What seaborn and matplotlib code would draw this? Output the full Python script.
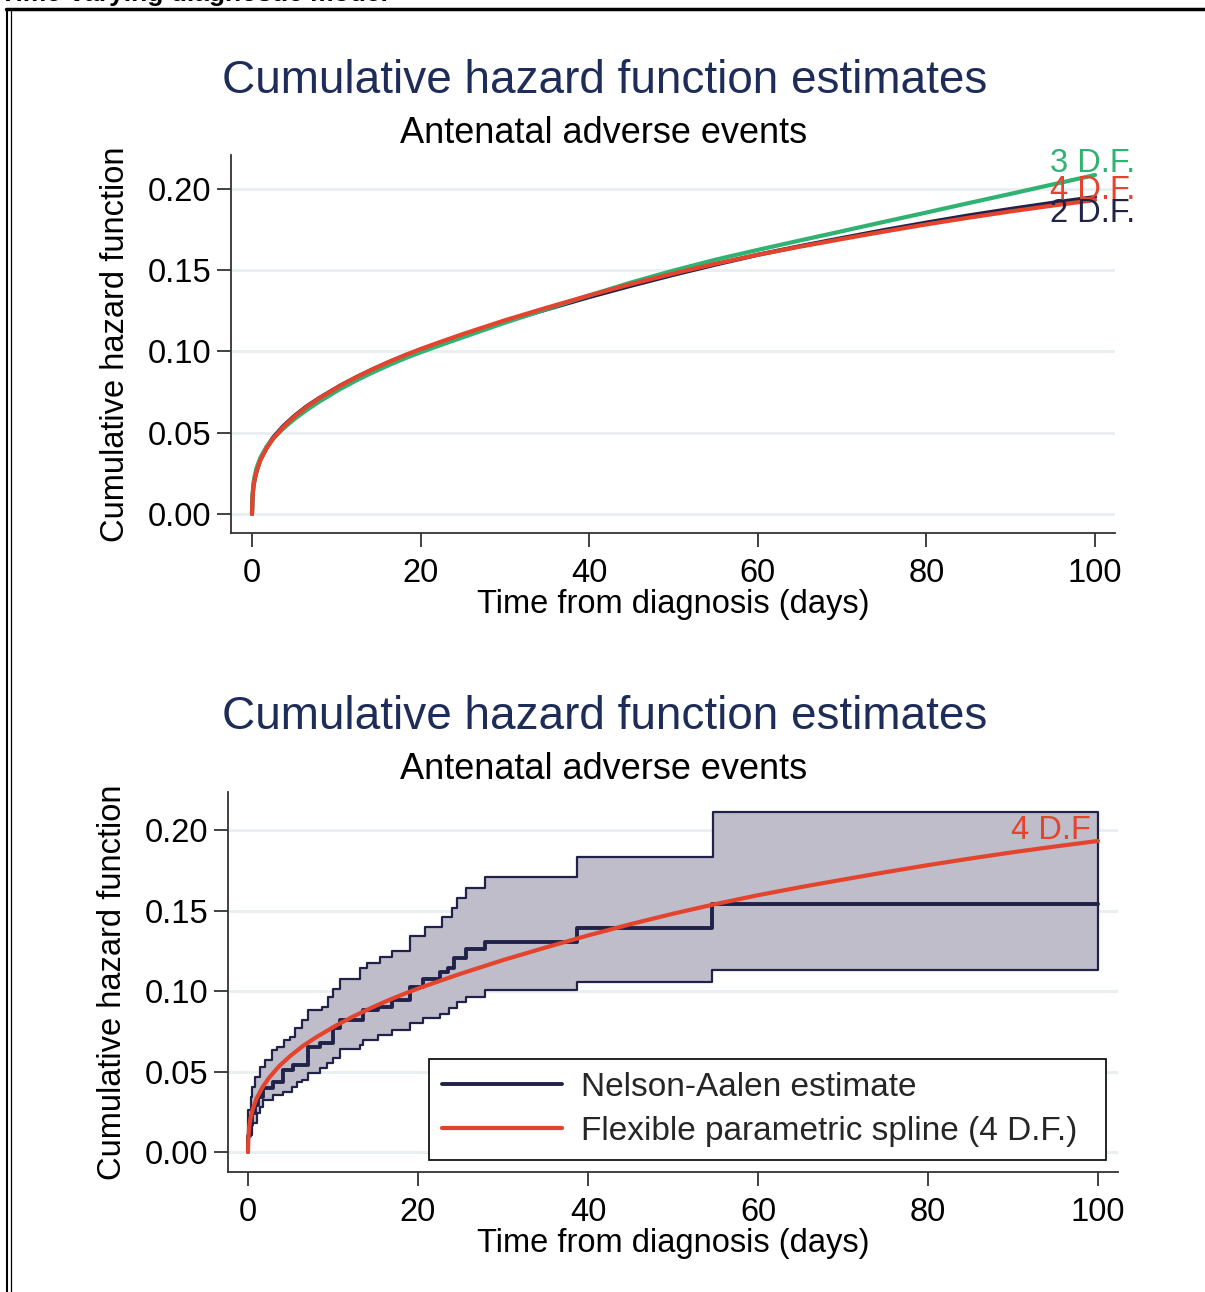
import numpy as np
import pandas as pd
import matplotlib
matplotlib.use("Agg")
import matplotlib.pyplot as plt
from matplotlib.lines import Line2D
from matplotlib.ticker import FormatStrFormatter
import seaborn as sns

# ---------------- data ----------------
# smooth flexible parametric spline estimates (top panel)
days = [0, 0.05, 0.16, 0.3, 0.55, 1.0, 1.74, 2.5, 3.7, 5, 6.5, 8, 10.4, 12.5, 14.4,
        16.5, 18.35, 20, 22.3, 25, 30, 35, 40, 45, 50, 55, 60, 65, 70, 75, 80, 85,
        90, 95, 100]
df4 = [0, 0.009, 0.0165, 0.021, 0.0265, 0.0332, 0.0405, 0.0463, 0.0535, 0.0598,
       0.066, 0.0712, 0.0787, 0.0845, 0.0893, 0.0942, 0.0982, 0.1015, 0.1058, 0.1107,
       0.1192, 0.127, 0.1345, 0.1415, 0.148, 0.154, 0.1595, 0.1645, 0.1692, 0.1738,
       0.1782, 0.1823, 0.1862, 0.1898, 0.1932]
df3 = [0, 0.010, 0.0185, 0.023, 0.0285, 0.0347, 0.0415, 0.0463, 0.0525, 0.0583,
       0.064, 0.0692, 0.0767, 0.0825, 0.0873, 0.0922, 0.0962, 0.0995, 0.1038, 0.1087,
       0.1177, 0.1262, 0.1345, 0.1425, 0.1498, 0.1565, 0.1625, 0.1683, 0.174, 0.1798,
       0.1855, 0.1913, 0.197, 0.2028, 0.2086]
df2 = [0, 0.009, 0.0165, 0.021, 0.0265, 0.0335, 0.041, 0.047, 0.054, 0.0602, 0.0663,
       0.0714, 0.0788, 0.0845, 0.0892, 0.094, 0.0979, 0.1011, 0.1053, 0.110, 0.1183,
       0.126, 0.1335, 0.1405, 0.1472, 0.1535, 0.1595, 0.1648, 0.1698, 0.1747, 0.1793,
       0.1837, 0.1877, 0.1915, 0.195]

# Nelson-Aalen estimate with 95% CI (bottom panel), step values from each time
na_t = [0, 0.05, 0.2, 0.43, 0.8, 1.2, 1.8, 2.98, 4.16, 5.33, 7.1, 8.47, 10.04, 10.82,
        13.57, 15.3, 16.9, 19.06, 20.6, 22.6, 23.5, 24.2, 25.6, 27.9, 38.7, 54.6]
na_v = [0, 0.010, 0.017, 0.024, 0.029, 0.034, 0.0395, 0.0437, 0.051, 0.054, 0.0654,
        0.0675, 0.0768, 0.082, 0.088, 0.090, 0.0944, 0.1027, 0.1075, 0.112, 0.1145,
        0.1205, 0.126, 0.1306, 0.139, 0.154]
up_t = [0, 0.3, 0.45, 0.8, 1.4, 2.0, 2.8, 3.4, 4.2, 4.9, 5.5, 6.3, 7.1, 8.7, 9.45,
        10.0, 10.8, 13.2, 14.0, 15.5, 16.9, 19.1, 20.8, 22.8, 24.0, 24.55, 25.7,
        27.9, 38.7, 54.7]
up_v = [0.026, 0.034, 0.0406, 0.0468, 0.053, 0.057, 0.0634, 0.0654, 0.0696, 0.0716,
        0.0768, 0.082, 0.088, 0.090, 0.0965, 0.101, 0.1075, 0.114, 0.1176, 0.1213,
        0.125, 0.1344, 0.140, 0.146, 0.1513, 0.1576, 0.1638, 0.171, 0.1834, 0.2114]
lo_t = [0, 0.43, 1.02, 1.41, 1.8, 2.98, 4.16, 5.14, 5.73, 6.31, 7.1, 8.47, 9.25,
        10.04, 10.82, 13.18, 13.57, 15.3, 16.9, 19.06, 20.6, 22.6, 23.6, 24.55, 25.7,
        27.9, 38.7, 54.6]
lo_v = [0.0106, 0.0178, 0.024, 0.0282, 0.0323, 0.0354, 0.0375, 0.0406, 0.0437,
        0.0447, 0.0489, 0.052, 0.0551, 0.0582, 0.0638, 0.0665, 0.0696, 0.0727,
        0.0758, 0.080, 0.083, 0.086, 0.0892, 0.0934, 0.0965, 0.1006, 0.1058, 0.113]
t_end = 100

x_ticks = [0, 20, 40, 60, 80, 100]
y_ticks = [0.00, 0.05, 0.10, 0.15, 0.20]

title = "Cumulative hazard function estimates"
subtitle = "Antenatal adverse events"
xlab = "Time from diagnosis (days)"
ylab = "Cumulative hazard function"

# ---------------- style ----------------
sns.set_theme(style="white")
plt.rcParams["font.family"] = ["Liberation Sans", "DejaVu Sans"]

NAVY = "#21224a"
TITLE_C = "#1d2c58"
GREEN = "#30b272"
RED = "#e4432d"
BAND = "#bfbdc9"
GRID = "#e8eff1"
AX_C = "#333333"
FS = 23.5

W, H = 1205, 1292
fig = plt.figure(figsize=(W / 100, H / 100), dpi=100)


def fx(px):
    return px / W


def fy(py):
    return 1 - py / H


def style_axes(ax, xlim, ylim):
    ax.set_xlim(*xlim)
    ax.set_ylim(*ylim)
    ax.set_xticks(x_ticks)
    ax.set_yticks(y_ticks)
    ax.yaxis.set_major_formatter(FormatStrFormatter("%.2f"))
    for s in ["top", "right"]:
        ax.spines[s].set_visible(False)
    for s in ["left", "bottom"]:
        ax.spines[s].set_color(AX_C)
        ax.spines[s].set_linewidth(1.3)
    ax.tick_params(axis="both", which="major", direction="out", length=10,
                   width=1.3, color=AX_C, labelsize=FS, labelcolor="black",
                   bottom=True, left=True)
    ax.tick_params(axis="x", pad=8)
    ax.tick_params(axis="y", pad=4)
    ax.yaxis.grid(True, color=GRID, lw=2)
    ax.xaxis.grid(False)
    ax.set_axisbelow(True)
    ax.set_xlabel(xlab, fontsize=FS, labelpad=0, color="black")
    ax.set_ylabel(ylab, fontsize=FS, labelpad=12, color="black")
    ax.set_facecolor("white")


# ---------------- top panel ----------------
ax1 = fig.add_axes([fx(231), fy(533), (1115 - 231) / W, (533 - 155) / H])
top = pd.DataFrame({"day": days, "2 D.F.": df2, "3 D.F.": df3, "4 D.F.": df4})
for col, c in [("2 D.F.", NAVY), ("3 D.F.", GREEN), ("4 D.F.", RED)]:
    sns.lineplot(data=top, x="day", y=col, ax=ax1, color=c, lw=3.0,
                 estimator=None, sort=False, legend=False)
style_axes(ax1, (-2.49, 102.37), (-0.0117, 0.2209))

for col, c, dy in [("3 D.F.", GREEN, 11), ("4 D.F.", RED, 10), ("2 D.F.", NAVY, -16)]:
    ax1.annotate(col, xy=(days[-1], top[col].iloc[-1]), xytext=(-45, dy),
                 textcoords="offset pixels", ha="left", va="center",
                 fontsize=FS, color=c)

# ---------------- bottom panel ----------------
ax2 = fig.add_axes([fx(228), fy(1172), (1118 - 228) / W, (1172 - 792) / H])

grid_t = np.array(sorted(set(up_t) | set(lo_t) | {t_end}))
up_arr = np.array(up_v)[np.searchsorted(up_t, grid_t, side="right") - 1]
lo_arr = np.array(lo_v)[np.searchsorted(lo_t, grid_t, side="right") - 1]
ax2.fill_between(grid_t, lo_arr, up_arr, step="post", facecolor=BAND,
                 edgecolor=NAVY, linewidth=1.6, zorder=2)

na_df = pd.DataFrame({"t": na_t + [t_end], "v": na_v + [na_v[-1]]})
sns.lineplot(data=na_df, x="t", y="v", ax=ax2, color=NAVY, lw=2.8,
             drawstyle="steps-post", estimator=None, sort=False, legend=False,
             zorder=3)
fp_df = pd.DataFrame({"t": days, "v": df4})
sns.lineplot(data=fp_df, x="t", y="v", ax=ax2, color=RED, lw=3.0,
             estimator=None, sort=False, legend=False, zorder=4)
style_axes(ax2, (-2.35, 102.35), (-0.0124, 0.2236))

ax2.annotate("4 D.F", xy=(days[-1], df4[-1]), xytext=(-7, 10),
             textcoords="offset pixels", ha="right", va="center",
             fontsize=FS, color=RED, zorder=5)

handles = [Line2D([], [], color=NAVY, lw=2.8), Line2D([], [], color=RED, lw=3.0)]
leg = ax2.legend(handles, ["Nelson-Aalen estimate",
                           "Flexible parametric spline (4 D.F.)"],
                 loc="lower left", bbox_to_anchor=(0.2258, 0.0316, 0.7607, 0.2763),
                 mode="expand", fontsize=24, frameon=True, fancybox=False,
                 edgecolor="black", framealpha=1, handlelength=3.6,
                 handletextpad=0.55, labelspacing=0.38, borderpad=0.4,
                 borderaxespad=0)
leg.get_frame().set_linewidth(1.2)
leg.set_zorder(6)

# ---------------- titles ----------------
for yb, yb2 in [(93, 143), (729, 779)]:
    fig.text(0.502, fy(yb), title, ha="center", va="baseline", fontsize=33,
             color=TITLE_C)
    fig.text(0.501, fy(yb2), subtitle, ha="center", va="baseline", fontsize=26,
             color="black")

# cropped heading and page frame
fig.text(0.0, fy(0.5), "Time-varying diagnostic model", ha="left", va="baseline",
         fontsize=19, fontweight="bold", color="black")
fig.add_artist(Line2D([fx(6), 1], [fy(8.5), fy(8.5)], transform=fig.transFigure,
                      color="black", lw=2.5))
fig.add_artist(Line2D([fx(7), fx(7)], [0, fy(8.5)], transform=fig.transFigure,
                      color="black", lw=1.5))
fig.add_artist(Line2D([fx(11), fx(11)], [0, fy(11)], transform=fig.transFigure,
                      color="black", lw=0.9))

fig.savefig("out.png", dpi=100, facecolor="white")
